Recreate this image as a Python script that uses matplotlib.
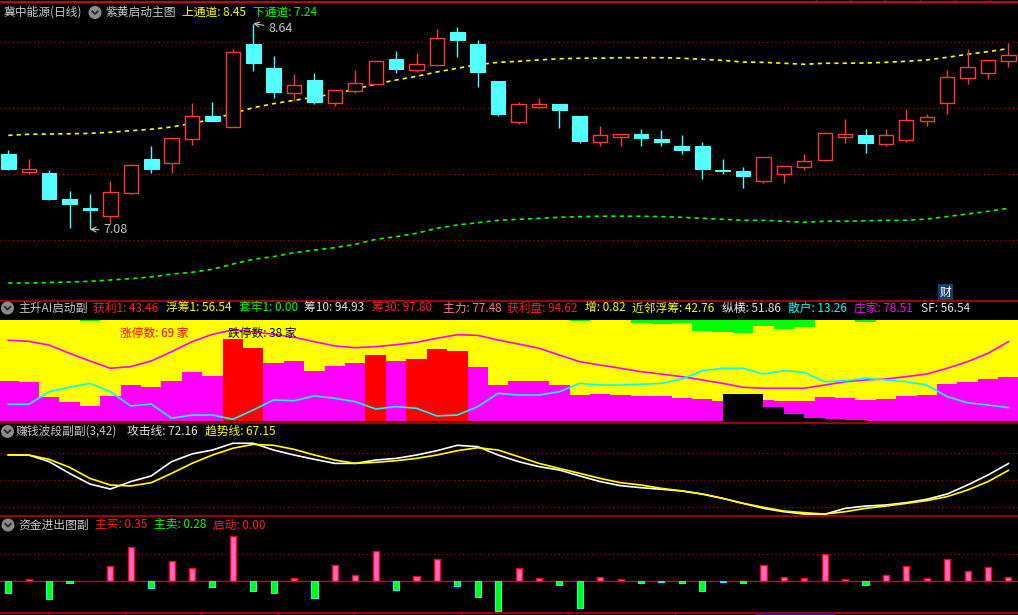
import matplotlib
matplotlib.use('Agg')
import matplotlib.pyplot as plt
import numpy as np
from matplotlib.patches import Circle

plt.rcParams['font.family'] = ['Noto Sans CJK SC', 'DejaVu Sans']

# ---------------- data ----------------
opens = [7.652, 7.518, 7.508, 7.311, 7.242, 7.184, 7.358, 7.614, 7.586, 7.768,
         7.937, 7.858, 8.485, 8.303, 8.116, 8.212, 8.040, 8.131, 8.180, 8.371,
         8.290, 8.328, 8.576, 8.485, 8.205, 7.896, 8.010, 8.028, 7.939, 7.745,
         7.778, 7.801, 7.763, 7.712, 7.712, 7.530, 7.523, 7.449, 7.502, 7.555,
         7.608, 7.778, 7.793, 7.730, 7.760, 7.904, 8.040, 8.230, 8.267, 8.358]
closes = [7.538, 7.536, 7.311, 7.275, 7.227, 7.361, 7.566, 7.538, 7.770, 7.937,
          7.904, 8.422, 8.343, 8.124, 8.172, 8.048, 8.134, 8.187, 8.354, 8.298,
          8.331, 8.528, 8.517, 8.275, 7.957, 8.028, 8.028, 7.987, 7.752, 7.793,
          7.801, 7.775, 7.745, 7.684, 7.538, 7.525, 7.487, 7.627, 7.558, 7.596,
          7.808, 7.801, 7.737, 7.793, 7.907, 7.930, 8.233, 8.308, 8.361, 8.399]
highs = [7.682, 7.614, 7.528, 7.371, 7.348, 7.447, 7.576, 7.712, 7.770, 8.038,
         8.045, 8.445, 8.640, 8.394, 8.258, 8.265, 8.134, 8.288, 8.354, 8.432,
         8.417, 8.598, 8.614, 8.515, 8.205, 8.045, 8.076, 8.028, 7.939, 7.864,
         7.801, 7.841, 7.833, 7.795, 7.742, 7.614, 7.553, 7.627, 7.558, 7.652,
         7.816, 7.917, 7.841, 7.841, 7.992, 7.955, 8.288, 8.447, 8.361, 8.492]
lows = [7.530, 7.498, 7.300, 7.093, 7.080, 7.123, 7.351, 7.508, 7.508, 7.720,
        7.904, 7.858, 8.283, 8.078, 8.051, 8.033, 8.015, 8.116, 8.180, 8.267,
        8.275, 8.328, 8.386, 8.159, 7.939, 7.881, 8.002, 7.851, 7.737, 7.714,
        7.714, 7.714, 7.714, 7.654, 7.462, 7.502, 7.396, 7.434, 7.434, 7.533,
        7.601, 7.737, 7.661, 7.714, 7.745, 7.866, 7.957, 8.184, 8.222, 8.313]
upper_ch = [7.793, 7.801, 7.803, 7.805, 7.808, 7.816, 7.828, 7.839, 7.856, 7.884,
            7.914, 7.960, 8.002, 8.033, 8.058, 8.083, 8.108, 8.142, 8.182, 8.212,
            8.240, 8.273, 8.301, 8.328, 8.346, 8.354, 8.364, 8.373, 8.377, 8.377,
            8.381, 8.381, 8.381, 8.377, 8.369, 8.361, 8.348, 8.346, 8.339, 8.331,
            8.339, 8.339, 8.341, 8.346, 8.354, 8.364, 8.384, 8.407, 8.427, 8.45]
lower_ch = [6.674, 6.674, 6.678, 6.682, 6.687, 6.697, 6.707, 6.720, 6.742, 6.755,
            6.778, 6.818, 6.854, 6.874, 6.904, 6.924, 6.942, 6.967, 7.005, 7.025,
            7.051, 7.089, 7.114, 7.131, 7.149, 7.157, 7.164, 7.172, 7.177, 7.180,
            7.180, 7.180, 7.177, 7.172, 7.164, 7.157, 7.149, 7.149, 7.142, 7.134,
            7.142, 7.142, 7.146, 7.149, 7.149, 7.159, 7.177, 7.197, 7.217, 7.24]
high_label = 8.64
low_label = 7.08

# panel 2: 获利 (profit chips) bars, limit-up flags, 套牢 from top, black bars, lines
profit = [39.9, 38.9, 23.8, 19.1, 15.1, 24.8, 35.6, 34.0, 39.6, 48.8,
          44.8, 81.2, 72.6, 57.7, 59.4, 49.5, 54.8, 57.4, 65.6, 59.4,
          61.4, 71.3, 69.3, 53.5, 35.6, 39.9, 39.9, 35.6, 25.7, 27.0,
          25.7, 24.8, 25.0, 23.1, 21.5, 19.8, 19.8, 20.8, 19.8, 19.8,
          23.8, 22.8, 20.8, 21.8, 24.8, 26.0, 36.6, 38.9, 41.6, 43.46]
hot = [0, 0, 0, 0, 0, 0, 0, 0, 0, 0,
       0, 1, 1, 0, 0, 0, 0, 0, 1, 0,
       1, 1, 1, 0, 0, 0, 0, 0, 0, 0,
       0, 0, 0, 0, 0, 0, 0, 0, 0, 0,
       0, 0, 0, 0, 0, 0, 0, 0, 0, 0]
trapped = [0, 0, 0, 0, 1.0, 0, 0, 0, 0, 0,
           0, 0, 0, 0, 0, 0, 0, 0, 0, 0,
           0, 0, 0, 0, 0, 0, 0, 0, 1.0, 0,
           0, 2.7, 4.0, 3.0, 10.9, 11.6, 12.6, 5.9, 8.9, 6.9,
           0, 0, 2.0, 0, 0, 0, 0, 0, 0, 0]
dark = [0, 0, 0, 0, 0, 0, 0, 0, 0, 0,
        0, 0, 0, 0, 0, 0, 0, 0, 0, 0,
        0, 0, 0, 0, 0, 0, 0, 0, 0, 0,
        0, 0, 0, 0, 0, 26.7, 26.7, 14.2, 7.2, 3.0,
        2.0, 1.0, 0, 0, 0, 0, 0, 0, 0, 0]
zhuangjia = [79.9, 78.9, 75.2, 67.0, 59.4, 52.2, 53.8, 59.4, 68.6, 78.5,
             85.8, 90.1, 88.4, 85.8, 82.9, 78.5, 74.3, 72.6, 73.6, 75.5,
             77.9, 81.9, 85.4, 84.8, 80.2, 76.2, 72.0, 65.3, 58.7, 55.4,
             52.2, 48.8, 46.5, 43.9, 40.6, 37.3, 33.4, 32.4, 32.4, 32.4,
             35.6, 38.9, 40.6, 41.6, 43.9, 46.5, 52.2, 58.7, 67.0, 78.51]
sanhu = [16.5, 16.5, 29.0, 33.4, 37.3, 29.0, 14.9, 16.8, 2.7, 5.9,
         5.9, 1.7, 10.9, 20.8, 20.1, 24.8, 22.5, 19.1, 11.9, 14.2,
         12.6, 5.0, 5.9, 14.2, 27.4, 25.7, 25.7, 29.0, 37.3, 35.6,
         35.6, 36.3, 37.3, 41.6, 49.8, 52.2, 52.2, 46.5, 49.8, 48.2,
         38.9, 39.9, 42.3, 40.6, 38.9, 35.6, 24.1, 18.1, 15.8, 13.26]

# panel 3
attack = [78.5, 78.5, 73.6, 64.9, 57.0, 53.3, 58.8, 63.0, 73.6, 79.3,
          82.2, 87.2, 87.2, 82.2, 78.5, 75.3, 72.3, 72.3, 74.8, 76.0,
          78.5, 81.7, 85.7, 84.7, 78.5, 73.6, 69.9, 67.4, 63.0, 58.8,
          55.8, 54.3, 53.1, 51.9, 49.6, 46.4, 42.7, 39.0, 36.5, 34.8,
          34.6, 39.0, 40.7, 41.5, 43.2, 45.7, 49.6, 56.3, 63.7, 72.16]
trend = [78.5, 78.5, 75.3, 69.4, 61.2, 56.3, 55.6, 58.0, 64.9, 72.3,
         78.5, 83.5, 86.4, 85.7, 82.7, 78.5, 74.8, 72.3, 73.1, 74.3,
         76.0, 78.5, 81.7, 83.9, 82.2, 77.3, 72.3, 68.6, 64.9, 61.2,
         58.0, 56.3, 53.8, 51.9, 49.6, 46.4, 42.7, 39.8, 37.0, 35.8,
         34.8, 36.5, 39.0, 40.7, 42.7, 44.7, 47.7, 52.6, 58.8, 67.15]

# panel 4
flow = [-1.23, 0.23, -1.83, -0.23, 0.0, 1.53, 3.43, -0.73, 2.03, 1.33,
        -0.63, 4.53, -1.03, -1.23, 0.33, -1.73, 1.63, 0.63, 3.03, -0.93,
        0.53, 2.23, -0.53, -1.63, -3.03, 1.33, 0.33, -0.43, -2.73, 0.43,
        0.23, -0.23, -0.13, -0.23, -1.03, -0.13, -0.23, 1.63, 0.43, 0.33,
        2.73, 0.23, -0.43, 0.63, 1.53, 0.33, 2.23, 1.03, 1.43, 0.43]

# ---------------- figure ----------------
W, H = 1018, 615
fig = plt.figure(figsize=(W / 100, H / 100), dpi=100, facecolor='black')


def rect(top, bottom):
    return [0, 1 - bottom / H, 1, (bottom - top) / H]


def clean(ax, face='black'):
    ax.set_facecolor(face)
    ax.set_xticks([])
    ax.set_yticks([])
    for s in ax.spines.values():
        s.set_visible(False)
    ax.set_xlim(-0.407, 49.47)


RED = '#FF3C3C'
CYAN = '#54FFFF'
GRID = '#B00000'
DOT = (0, (0.8, 2.2))

n = len(opens)
x = np.arange(n)
o = np.array(opens); c = np.array(closes)
h = np.array(highs); l = np.array(lows)

# ---- panel 1: candles ----
ax1 = fig.add_axes(rect(3, 299))
clean(ax1)
ax1.set_ylim(8 - (299 - 108) / 132, 8 - (3 - 108) / 132)
for lvl in (8.5, 8.0, 7.5, 7.0):
    ax1.axhline(lvl, color=GRID, lw=1.0, ls=DOT, zorder=1)
ax1.plot(x, upper_ch, color='#FFFF00', lw=1.2, ls=(0, (2.5, 2.5)), zorder=2)
ax1.plot(x, lower_ch, color='#00FF00', lw=1.2, ls=(0, (2.5, 2.5)), zorder=2)

up = c >= o
top = np.maximum(o, c); bot = np.minimum(o, c)
ax1.vlines(x[~up], l[~up], h[~up], color=CYAN, lw=1.0, zorder=3)
ax1.vlines(x[up], top[up], h[up], color=RED, lw=1.0, zorder=3)
ax1.vlines(x[up], l[up], bot[up], color=RED, lw=1.0, zorder=3)
ax1.bar(x[~up], (top - bot)[~up], bottom=bot[~up], width=0.72,
        facecolor=CYAN, edgecolor=CYAN, lw=0.8, zorder=4)
ax1.bar(x[up], (top - bot)[up], bottom=bot[up], width=0.70,
        facecolor='black', edgecolor=RED, lw=1.0, zorder=4)

ih = int(np.argmax(h)); il = int(np.argmin(l))
ax1.annotate(f'{high_label:.2f}', xy=(ih, high_label), xytext=(ih + 0.72, high_label - 0.035),
             color='#C8C8C8', fontsize=9, va='center', ha='left',
             arrowprops=dict(arrowstyle='->', color='#C8C8C8', lw=0.8, shrinkA=1, shrinkB=0))
ax1.annotate(f'{low_label:.2f}', xy=(il, low_label), xytext=(il + 0.64, low_label - 0.004),
             color='#C8C8C8', fontsize=9, va='center', ha='left',
             arrowprops=dict(arrowstyle='->', color='#C8C8C8', lw=0.8, shrinkA=1, shrinkB=0))

# ---- panel 2 ----
ax2 = fig.add_axes(rect(320, 421))
clean(ax2, '#FFFF00')
ax2.set_ylim(0, 100)
bar_cols = ['#FF0000' if f else '#FF00FF' for f in hot]
ax2.bar(x, profit, width=1.0, color=bar_cols, lw=0, antialiased=False, zorder=2)
tr = np.array(trapped)
ax2.bar(x, tr, bottom=100 - tr, width=1.0, color='#00FF00', lw=0, antialiased=False, zorder=2)
ax2.fill_between(x, 0, dark, step='post', color='black', lw=0, antialiased=False, zorder=3)
ax2.plot(x, zhuangjia, color='#FF00FF', lw=1.2, zorder=5)
ax2.plot(x, sanhu, color='#00FFFF', lw=1.2, zorder=5)

# ---- panel 3 ----
ax3 = fig.add_axes(rect(424, 515))
clean(ax3)
ax3.set_ylim(60 + (480 - 515) / 1.35, 60 + (480 - 424) / 1.35)
for lvl in (80, 60, 40):
    ax3.axhline(lvl, color=GRID, lw=1.0, ls=DOT, zorder=1)
ax3.plot(x, trend, color='#FFFF00', lw=1.2, zorder=3)
ax3.plot(x, attack, color='#FFFFFF', lw=1.2, zorder=2)

# ---- panel 4 ----
ax4 = fig.add_axes(rect(517, 612))
clean(ax4)
ax4.set_ylim((581 - 612) / 10, (581 - 517) / 10)
ax4.axhline(2.7, color=GRID, lw=1.0, ls=DOT, zorder=1)
ax4.axhline(0, color='#D00000', lw=1.0, zorder=1)
fl = np.array(flow)
pos = fl > 0; neg = fl < 0
ax4.bar(x[pos], fl[pos], width=0.30, facecolor='#FF66CC', edgecolor='#FF0000', lw=1.0, zorder=3)
ax4.bar(x[neg], fl[neg], width=0.30, facecolor='#00FF00', edgecolor='#00FFFF', lw=0.8, zorder=3)

# ---- overlay (headers, separators) ----
ov = fig.add_axes([0, 0, 1, 1])
ov.set_xlim(0, W); ov.set_ylim(H, 0)
ov.axis('off')
ov.patch.set_alpha(0)

SEP = '#CC0000'
for yy in (2, 300.5, 423, 516, 613):
    ov.plot([0, W], [yy, yy], color=SEP, lw=1.4 if yy == 2 else 1.1, solid_capstyle='butt')
for tx in (816, 850, 885, 920, 955, 990):
    ov.plot([tx, tx], [0, 2], color=SEP, lw=1.0)
for tx in (48, 125, 201, 278, 354, 461, 568, 675, 756, 834):
    ov.plot([tx, tx], [613, 615], color=SEP, lw=1.0)
ov.plot([756, 834], [614.3, 614.3], color='#2020C0', lw=1.5)


def icon(cx, cy):
    ov.add_patch(Circle((cx, cy), 5.8, color='#8C8C8C', zorder=5))
    ov.plot([cx - 2.8, cx, cx + 2.8], [cy - 1.2, cy + 1.6, cy - 1.2], color='#2A2A2A', lw=1.3, zorder=6)


FS = 8.5


def label(px, py, s, col):
    ov.text(px, py, s, color=col, fontsize=FS, ha='left', va='center', zorder=7)


GRAY = '#C8C8C8'
WHITE = '#E6E6E6'
Y1 = 12.5
label(3, Y1, '冀中能源(日线)', GRAY)
icon(95, Y1)
label(105, Y1, '紫黄启动主图', GRAY)
label(182, Y1, f'上通道: {upper_ch[-1]:.2f}', '#FFFF00')
label(253, Y1, f'下通道: {lower_ch[-1]:.2f}', '#00FF00')

Y2 = 308
icon(7.5, Y2)
label(18, Y2, '主升AI启动副', GRAY)
label(93, Y2, f'获利1: {profit[-1]:.2f}', '#FF2020')
label(166, Y2, f'浮筹1: {100 - profit[-1]:.2f}', '#FFFF00')
label(239, Y2, f'套牢1: {trapped[-1]:.2f}', '#00FF00')
label(304, Y2, '筹10: 94.93', WHITE)
label(372, Y2, '筹30: 97.80', '#FF2020')
label(443, Y2, '主力: 77.48', '#FF8080')
label(507, Y2, '获利盘: 94.62', '#FF2020')
label(585, Y2, '增: 0.82', '#FFFF00')
label(632, Y2, '近邻浮筹: 42.76', '#FFFF00')
label(722, Y2, '纵横: 51.86', WHITE)
label(788, Y2, f'散户: {sanhu[-1]:.2f}', '#00FFFF')
label(854, Y2, f'庄家: {zhuangjia[-1]:.2f}', '#FF00FF')
label(921, Y2, 'SF: 56.54', WHITE)
label(120, 333, '涨停数: 69 家', '#FF0000')
label(228, 333, '跌停数: 38 家', '#000000')

Y3 = 431.5
icon(7.5, Y3)
label(16, Y3, '赚钱波段副副(3,42)', GRAY)
label(127, Y3, f'攻击线: {attack[-1]:.2f}', WHITE)
label(205, Y3, f'趋势线: {trend[-1]:.2f}', '#FFFF00')

Y4 = 525
icon(8, Y4)
label(18, Y4, '资金进出图副', GRAY)
label(95, Y4, '主买: 0.35', '#FF2020')
label(154, Y4, '主卖: 0.28', '#00FF00')
label(213, Y4, '启动: 0.00', '#FF2020')

ov.text(945.5, 292, '财', color='white', fontsize=8.5, ha='center', va='center', zorder=7,
        bbox=dict(boxstyle='square,pad=0.12', fc='#1B3F6E', ec='none'))

fig.savefig('out.png', dpi=100, facecolor='black')
